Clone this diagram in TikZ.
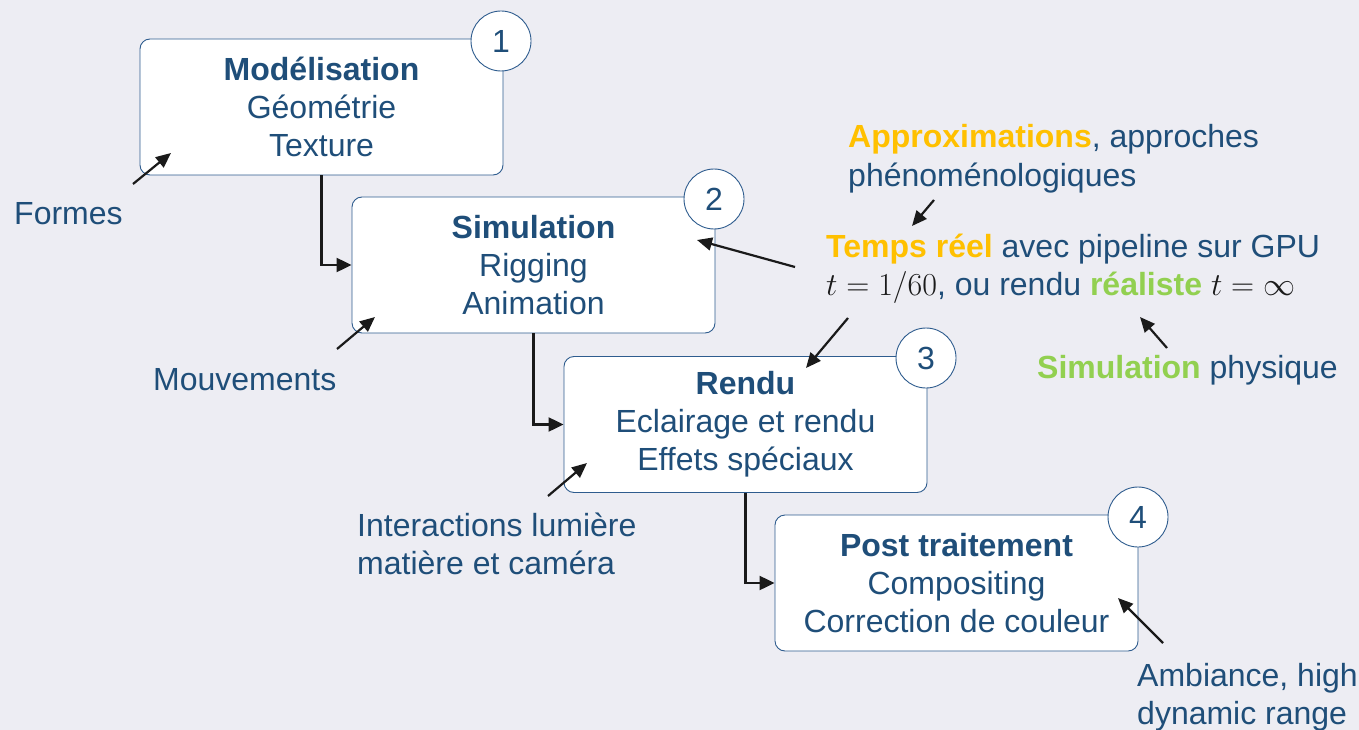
\RequirePackage{fix-cm}
\documentclass[tikz,border=0pt]{standalone}
\usepackage{fontspec}
\setmainfont{Liberation Sans}
\usetikzlibrary{arrows.meta}
\definecolor{bgc}{HTML}{EDEDF3}
\definecolor{txtblue}{HTML}{1F4E79}
\definecolor{boxblue}{HTML}{2E5C8E}
\definecolor{gold}{HTML}{FFC000}
\definecolor{leaf}{HTML}{92D050}
\definecolor{ink}{HTML}{1A1A1A}
\tikzset{
  stagebox/.style={draw=boxblue, line width=0.9pt, fill=white, rounded corners=10pt,
    minimum width=363pt, minimum height=136pt, inner sep=0pt, align=center,
    text=txtblue, font=\fontsize{32}{38}\selectfont},
  numcircle/.style={circle, draw=boxblue, line width=0.9pt, fill=white, minimum size=60pt,
    inner sep=0pt, text=txtblue, font=\fontsize{32}{38}\selectfont},
  lbl/.style={text=txtblue, font=\fontsize{32}{38.5}\selectfont, align=left, inner sep=0pt, anchor=west},
  pointer/.style={-{Triangle[length=15pt,width=13pt]}, draw=ink, line width=2.2pt},
  flow/.style={-{Triangle[length=15pt,width=14pt]}, draw=ink, line width=2.2pt},
}
\begin{document}
\begin{tikzpicture}[x=1pt,y=-1pt]
\fill[bgc] (0,0) rectangle (1359,730);
\useasboundingbox (0,0) rectangle (1359,730);

% stage boxes
\node[stagebox] (b1) at (321.5,107) {\textbf{Modélisation}\\Géométrie\\Texture};
\node[stagebox] (b2) at (533.5,265) {\textbf{Simulation}\\Rigging\\Animation};
\node[stagebox] (b3) at (745.5,424.5) {\textbf{Rendu}\\Eclairage et rendu\\Effets spéciaux};
\node[stagebox] (b4) at (956.5,583) {\textbf{Post traitement}\\Compositing\\Correction de couleur};

% number circles
\node[numcircle] (n1) at (501,41) {1};
\node[numcircle] (n2) at (714,199) {2};
\node[numcircle] (n3) at (926,358) {3};
\node[numcircle] (n4) at (1138,517) {4};

% flow connectors
\draw[flow] (b1.south) |- (b2.west);
\draw[flow] (b2.south) |- (b3.west);
\draw[flow] (b3.south) |- (b4.west);

% side labels
\node[lbl] (formes) at (14,214) {Formes};
\node[lbl] (mouv) at (153,380) {Mouvements};
\node[lbl] (inter) at (357,544) {Interactions lumière\\matière et caméra};
\node[lbl] (amb) at (1137,697) {Ambiance, high\\dynamic range};
\node[lbl] (approx) at (848,158.5) {\textcolor{gold}{\textbf{Approximations}}, approches\\phénoménologiques};
\node[lbl] (temps) at (826,269) {\textcolor{gold}{\textbf{Temps réel}} avec pipeline sur GPU\\\textcolor{ink}{$t=1/60$}, ou rendu \textcolor{leaf}{\textbf{réaliste}} \textcolor{ink}{$t=\infty$}};
\node[lbl] (phys) at (1037,370) {\textcolor{leaf}{\textbf{Simulation}} physique};

% pointer arrows
\coordinate (fA) at (133,184); \coordinate (fB) at (171,153);
\coordinate (mA) at (337,349); \coordinate (mB) at (375,317);
\coordinate (iA) at (548,496); \coordinate (iB) at (587,463);
\coordinate (aA) at (1163,643); \coordinate (aB) at (1118,598);
\coordinate (pA) at (934,200); \coordinate (pB) at (912,226);
\coordinate (tA) at (795,267); \coordinate (tB) at (697,240);
\coordinate (uA) at (848,318); \coordinate (uB) at (806,368);
\coordinate (sA) at (1167,348); \coordinate (sB) at (1140,317);
\draw[pointer] (fA) -- (fB);
\draw[pointer] (mA) -- (mB);
\draw[pointer] (iA) -- (iB);
\draw[pointer] (aA) -- (aB);
\draw[pointer] (pA) -- (pB);
\draw[pointer] (tA) -- (tB);
\draw[pointer] (uA) -- (uB);
\draw[pointer] (sA) -- (sB);
\end{tikzpicture}
\end{document}
